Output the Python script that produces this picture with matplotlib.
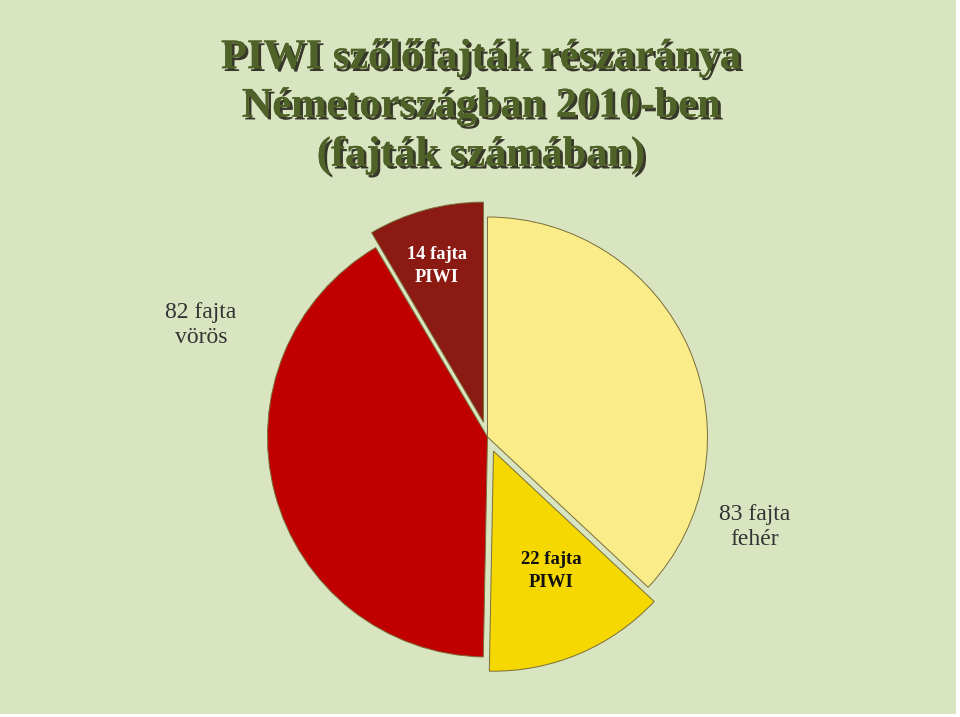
import matplotlib
matplotlib.use("Agg")
import matplotlib.pyplot as plt
import matplotlib.patheffects as pe
from matplotlib.patches import Rectangle

# fajták száma (a PIWI fajták a színenkénti összesben benne vannak)
white_total = 83
white_piwi = 22
red_total = 82
red_piwi = 14

slice_values = [white_total - white_piwi, white_piwi, red_total - red_piwi, red_piwi]
slice_colors = ["#faec88", "#f4d800", "#c00000", "#8a1a12"]
slice_explode = [0.0, 0.07, 0.0, 0.07]

title = "PIWI szőlőfajták részaránya\nNémetországban 2010-ben\n(fajták számában)"

W, H = 960, 717
fig = plt.figure(figsize=(W / 100, H / 100), dpi=100, facecolor="white")
fig.patches.append(Rectangle((0, 3 / H), 956 / W, 1, transform=fig.transFigure,
                             facecolor="#d9e4c0", edgecolor="none", zorder=-1))

# pie centre (487.5, 437) px, radius 220 px
cx, cy, r = 487.5, H - 437, 220
half = 1.25 * r
ax = fig.add_axes([(cx - half) / W, (cy - half) / H, 2 * half / W, 2 * half / H])
ax.set_xlim(-1.25, 1.25)
ax.set_ylim(-1.25, 1.25)
ax.set_aspect("equal")
ax.axis("off")

ax.pie(slice_values, colors=slice_colors, explode=slice_explode, startangle=90,
       counterclock=False, radius=1.0,
       wedgeprops=dict(edgecolor="#7a6e3a", linewidth=0.7))

serif = ["Liberation Serif", "DejaVu Serif"]

fig.text(481 / W, 1 - 107 / H, title, ha="center", va="center", family=serif,
         fontsize=30.5, fontweight="bold", color="#4f6228", linespacing=1.36,
         path_effects=[pe.withSimplePatchShadow(offset=(2, -2), shadow_rgbFace="#1a1a10", alpha=0.85),
                       pe.Normal()])

fig.text(201 / W, 1 - 325 / H, f"{red_total} fajta\nvörös", ha="center", va="center",
         family=serif, fontsize=17, color="#333333", linespacing=1.25)
fig.text(755 / W, 1 - 527 / H, f"{white_total} fajta\nfehér", ha="center", va="center",
         family=serif, fontsize=17, color="#333333", linespacing=1.25)
fig.text(437 / W, 1 - 266 / H, f"{red_piwi} fajta\nPIWI", ha="center", va="center",
         family=serif, fontsize=13.3, fontweight="bold", color="white", linespacing=1.4)
fig.text(551 / W, 1 - 571 / H, f"{white_piwi} fajta\nPIWI", ha="center", va="center",
         family=serif, fontsize=13.5, fontweight="bold", color="#111111", linespacing=1.4)

fig.savefig("out.png", dpi=100, facecolor=fig.get_facecolor())
